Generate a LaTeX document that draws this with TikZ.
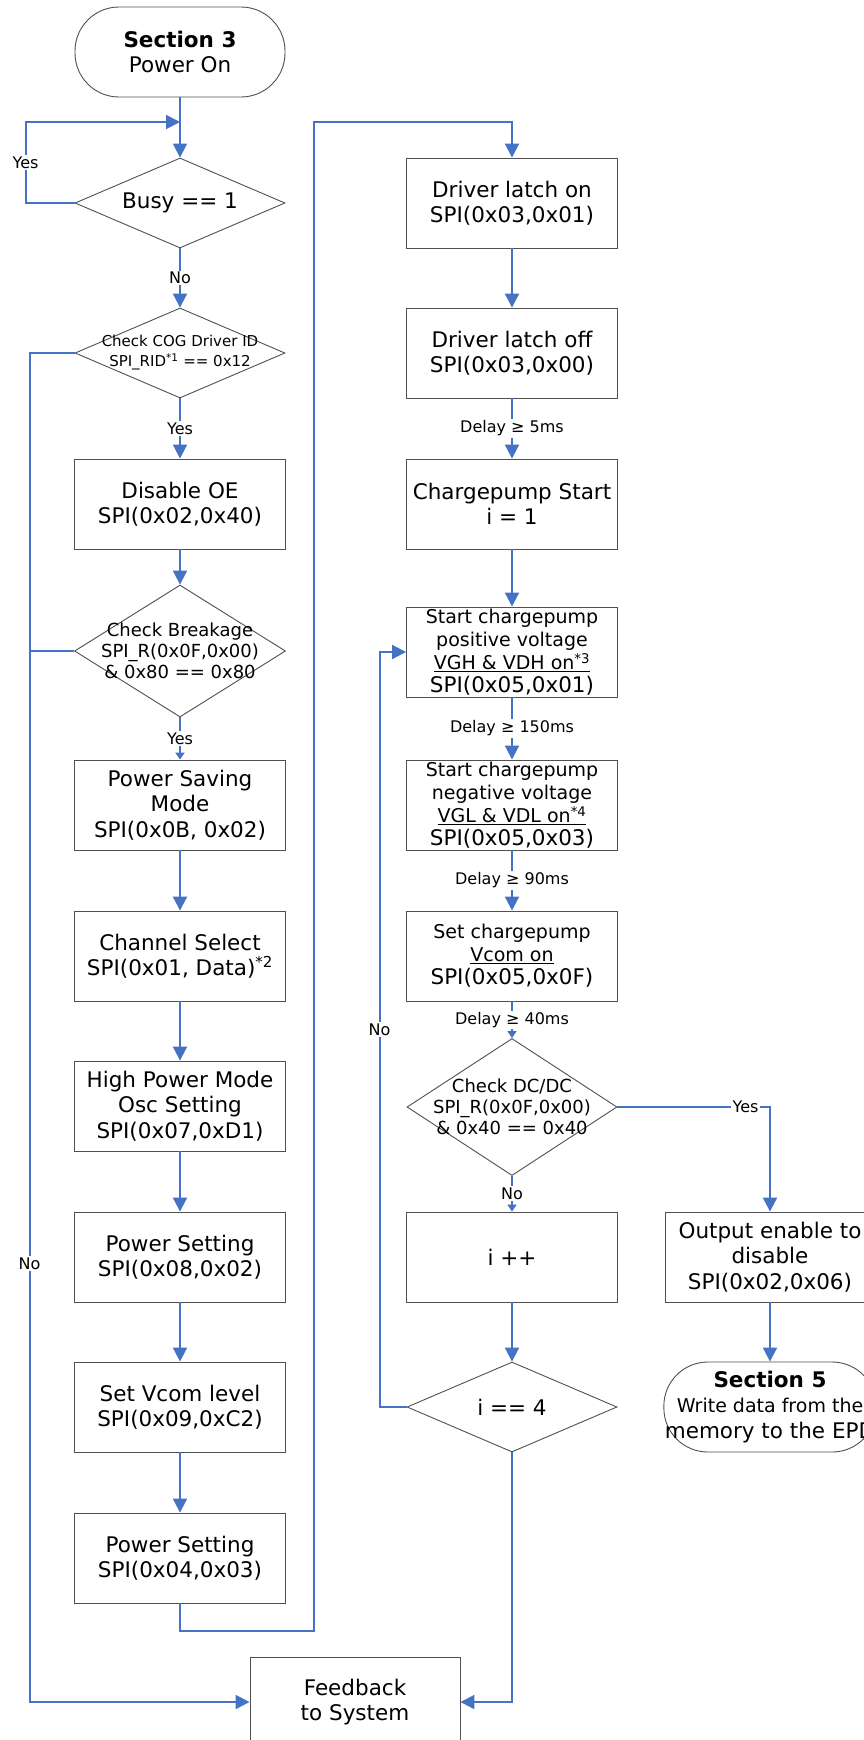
\documentclass[tikz,border=0pt]{standalone}
\usepackage{fontspec}
\setmainfont{DejaVu Sans}
\usetikzlibrary{arrows.meta,shapes.geometric,calc}
\definecolor{flowblue}{HTML}{4472C4}
\definecolor{boxline}{HTML}{505050}

\begin{document}
\begin{tikzpicture}[x=1pt,y=-1pt,
  procbox/.style={draw=boxline, line width=0.9pt, rectangle, minimum width=211pt,
    minimum height=90pt, inner sep=1pt, align=center, font=\fontsize{21.5}{25.5}\selectfont},
  termbox/.style={procbox, rounded corners=44pt, minimum width=210pt},
  decbox/.style={draw=boxline, line width=0.9pt, diamond, inner sep=0pt,
    minimum width=210pt, minimum height=90pt},
  dtext/.style={align=center, inner sep=0pt},
  flow/.style={draw=flowblue, line width=2pt, -{Triangle[length=14pt,width=14pt]}},
  flows/.style={draw=flowblue, line width=2pt, -{Triangle[length=7pt,width=9pt]}},
  wire/.style={draw=flowblue, line width=2pt},
  lbl/.style={fill=white, inner sep=1.5pt, font=\fontsize{16}{18}\selectfont}
]
\useasboundingbox (0,0) rectangle (864,1740);

% Left column
\node[termbox] (start) at (180,52) {\textbf{Section 3}\\Power On};
\node[decbox] (busy) at (180,203) {};
\node[dtext, font=\fontsize{21.5}{25}\selectfont] at (busy) {Busy == 1};
\node[decbox] (cog) at (180,353) {};
\node[dtext, font=\fontsize{15}{20}\selectfont] at (cog) {Check COG Driver ID\\SPI\_RID\textsuperscript{*1} == 0x12};
\node[procbox] (oe) at (180,504) {Disable OE\\SPI(0x02,0x40)};
\node[decbox, minimum width=211pt, minimum height=132pt] (brk) at (180,651) {};
\node[dtext, font=\fontsize{18}{21}\selectfont] at (brk) {Check Breakage\\SPI\_R(0x0F,0x00)\\\& 0x80 == 0x80};
\node[procbox] (psm) at (180,805) {Power Saving\\Mode\\SPI(0x0B, 0x02)};
\node[procbox] (chs) at (180,956) {Channel Select\\SPI(0x01, Data)\textsuperscript{*2}};
\node[procbox] (hpm) at (180,1106) {High Power Mode\\Osc Setting\\SPI(0x07,0xD1)};
\node[procbox] (pws1) at (180,1257) {Power Setting\\SPI(0x08,0x02)};
\node[procbox] (vcom) at (180,1407) {Set Vcom level\\SPI(0x09,0xC2)};
\node[procbox] (pws2) at (180,1558) {Power Setting\\SPI(0x04,0x03)};
\node[procbox, minimum width=210pt] (fb) at (355,1702) {Feedback\\to System};

% Right column
\node[procbox] (dlon) at (512,203) {Driver latch on\\SPI(0x03,0x01)};
\node[procbox] (dloff) at (512,353) {Driver latch off\\SPI(0x03,0x00)};
\node[procbox] (cps) at (512,504) {Chargepump Start\\i = 1};
\node[procbox, font=\fontsize{19}{23}\selectfont] (pos) at (512,652)
  {Start chargepump\\positive voltage\\\underline{VGH \& VDH on\textsuperscript{*3}}\\{\fontsize{21.5}{25}\selectfont SPI(0x05,0x01)}};
\node[procbox, font=\fontsize{19}{23}\selectfont] (neg) at (512,805)
  {Start chargepump\\negative voltage\\\underline{VGL \& VDL on\textsuperscript{*4}}\\{\fontsize{21.5}{25}\selectfont SPI(0x05,0x03)}};
\node[procbox, font=\fontsize{19}{23}\selectfont] (scv) at (512,956)
  {Set chargepump\\\underline{Vcom on}\\{\fontsize{21.5}{25}\selectfont SPI(0x05,0x0F)}};
\node[decbox, minimum height=137pt] (dcdc) at (512,1107) {};
\node[dtext, font=\fontsize{18}{21}\selectfont] at (dcdc) {Check DC/DC\\SPI\_R(0x0F,0x00)\\\& 0x40 == 0x40};
\node[procbox] (inc) at (512,1257) {i ++};
\node[decbox] (ieq) at (512,1407) {};
\node[dtext, font=\fontsize{21.5}{25}\selectfont] at (ieq) {i == 4};
\node[procbox, minimum width=210pt] (oen) at (770,1257) {Output enable to\\disable\\SPI(0x02,0x06)};
\node[termbox] (sec5) at (770,1407)
  {\textbf{Section 5}\\\fontsize{19}{23}\selectfont Write data from the\\memory to the EPD};

% Left column connectors
\coordinate (j1) at (180,122);
\draw[flow] (start.south) -- (busy.north);
\draw[flow] (busy.west) -- ++(-49,0) -- node[lbl]{Yes} ++(0,-81) -- (j1);
\draw[flow] (busy.south) -- node[lbl]{No} (cog.north);
\draw[flow] (cog.south) -- node[lbl]{Yes} (oe.north);
\draw[flow] (oe.south) -- (brk.north);
\draw[flows] (brk.south) -- node[lbl]{Yes} (psm.north);
\draw[flow] (psm.south) -- (chs.north);
\draw[flow] (chs.south) -- (hpm.north);
\draw[flow] (hpm.south) -- (pws1.north);
\draw[flow] (pws1.south) -- (vcom.north);
\draw[flow] (vcom.south) -- (pws2.north);

% No branches to feedback
\draw[flow] (cog.west) -- ++(-45,0) coordinate (nl)
  -- node[lbl,pos=0.675]{No} (nl |- fb.west) -- (fb.west);
\draw[wire] (brk.west) -- (brk.west -| nl);

% Over to the right column
\coordinate (top) at (314,122);
\draw[flow] (pws2.south) -- ++(0,28) -| (top) -| (dlon.north);

% Right column connectors
\draw[flow] (dlon.south) -- (dloff.north);
\draw[flow] (dloff.south) -- node[lbl]{Delay ≥ 5ms} (cps.north);
\draw[flow] (cps.south) -- (pos.north);
\draw[flow] (pos.south) -- node[lbl]{Delay ≥ 150ms} (neg.north);
\draw[flow] (neg.south) -- node[lbl]{Delay ≥ 90ms} (scv.north);
\draw[flows] (scv.south) -- node[lbl]{Delay ≥ 40ms} (dcdc.north);
\draw[flows] (dcdc.south) -- node[lbl]{No} (inc.north);
\draw[flow] (dcdc.east) -- node[lbl,pos=0.84]{Yes} (dcdc.east -| oen.north) -- (oen.north);
\draw[flow] (inc.south) -- (ieq.north);
\draw[flow] (oen.south) -- (sec5.north);

% Retry loop and exit
\draw[flow] (ieq.west) -- ++(-27,0) coordinate (nr)
  -- node[lbl,pos=0.5]{No} (nr |- pos.west) -- (pos.west);
\draw[flow] (ieq.south) |- (fb.east);
\end{tikzpicture}
\end{document}
